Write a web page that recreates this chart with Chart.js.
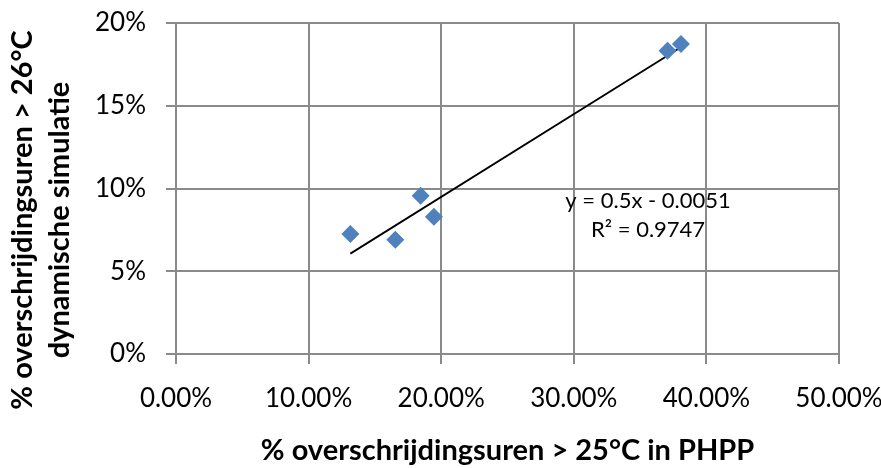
<!DOCTYPE html>
<html>
<head>
<meta charset="utf-8">
<script src="https://cdn.jsdelivr.net/npm/chart.js@4/dist/chart.umd.min.js"></script>
<style>
html,body{margin:0;padding:0;background:#fff;}
#wrap{width:881px;height:468px;}
</style>
</head>
<body>
<div id="wrap"><canvas id="c" width="881" height="468"></canvas></div>
<script>
// Data
const phppValues = [0.1315, 0.1654, 0.1845, 0.1945, 0.3707, 0.3808];  // x: % overschrijdingsuren > 25°C in PHPP
const simValues  = [0.0725, 0.0691, 0.0956, 0.0830, 0.1833, 0.1873];  // y: % overschrijdingsuren > 26°C dynamische simulatie
const trendSlope = 0.5;
const trendIntercept = -0.0051;
const trendEquation = 'y = 0.5x - 0.0051';
const trendR2 = 'R² = 0.9747';
const xTicks = [0, 0.1, 0.2, 0.3, 0.4, 0.5];
const yTicks = [0, 0.05, 0.10, 0.15, 0.20];
const xTitle = '% overschrijdingsuren > 25°C in PHPP';
const yTitle = ['% overschrijdingsuren > 26°C', 'dynamische simulatie'];

const points = phppValues.map((x, i) => ({x: x, y: simValues[i]}));
const xMin = Math.min(...phppValues), xMax = Math.max(...phppValues);
const trend = [xMin, xMax].map(x => ({x: x, y: trendSlope * x + trendIntercept}));

const FONT = 'Lato, "Open Sans", sans-serif';
const gridColor = '#8a8a8a';

const labelPlugin = {
  id: 'trendLabel',
  afterDatasetsDraw(chart) {
    const {ctx, scales} = chart;
    ctx.save();
    ctx.fillStyle = '#000';
    ctx.font = '22px ' + FONT;
    ctx.textAlign = 'center';
    ctx.textBaseline = 'middle';
    ctx.fillText(trendEquation, scales.x.getPixelForValue(0.356), scales.y.getPixelForValue(0.0924));
    ctx.fillText(trendR2, scales.x.getPixelForValue(0.356), scales.y.getPixelForValue(0.0749));
    ctx.restore();
  }
};

const yTitlePlugin = {
  id: 'yTitle',
  afterDraw(chart) {
    const {ctx} = chart;
    ctx.save();
    ctx.fillStyle = '#000';
    ctx.font = 'bold 29px ' + FONT;
    ctx.textAlign = 'center';
    ctx.textBaseline = 'middle';
    ctx.translate(0, 220);
    ctx.rotate(-Math.PI / 2);
    ctx.fillText(yTitle[0], 0, 23);
    ctx.fillText(yTitle[1], 0, 60);
    ctx.restore();
  }
};

new Chart(document.getElementById('c'), {
  type: 'scatter',
  data: {
    datasets: [
      {
        label: 'data',
        data: points,
        pointStyle: 'rectRot',
        pointRadius: 9,
        pointHoverRadius: 9,
        backgroundColor: '#4F81BD',
        borderColor: '#4F81BD',
        borderWidth: 0,
        order: 1
      },
      {
        label: 'trend',
        type: 'line',
        data: trend,
        borderColor: '#000',
        borderWidth: 1.8,
        pointRadius: 0,
        fill: false,
        order: 2
      }
    ]
  },
  options: {
    responsive: false,
    animation: false,
    devicePixelRatio: 1,
    layout: {padding: {left: 0, right: 42, top: 23, bottom: 0}},
    plugins: {legend: {display: false}, tooltip: {enabled: false}},
    scales: {
      x: {
        type: 'linear',
        min: 0, max: 0.5,
        afterBuildTicks: s => { s.ticks = xTicks.map(v => ({value: v})); },
        afterFit: s => { s.height = 114; s.paddingLeft = 0; s.paddingRight = 0; },
        ticks: {
          callback: v => (v * 100).toFixed(2) + '%',
          font: {family: FONT, size: 26},
          color: '#000',
          padding: 19,
          maxRotation: 0,
          autoSkip: false
        },
        grid: {color: gridColor, lineWidth: 2, tickLength: 10, drawTicks: true},
        border: {color: gridColor, width: 2},
        title: {
          display: true,
          text: xTitle,
          font: {family: FONT, size: 29, weight: 'bold'},
          color: '#000',
          padding: {top: 0, bottom: 0}
        }
      },
      y: {
        type: 'linear',
        min: 0, max: 0.2,
        afterBuildTicks: s => { s.ticks = yTicks.map(v => ({value: v})); },
        afterFit: s => { s.width = 176; s.paddingTop = 0; s.paddingBottom = 0; },
        ticks: {
          callback: v => Math.round(v * 100) + '%',
          font: {family: FONT, size: 26},
          color: '#000',
          padding: 20
        },
        grid: {color: gridColor, lineWidth: 2, tickLength: 10},
        border: {color: gridColor, width: 2}
      }
    }
  },
  plugins: [labelPlugin, yTitlePlugin]
});
</script>
</body>
</html>
